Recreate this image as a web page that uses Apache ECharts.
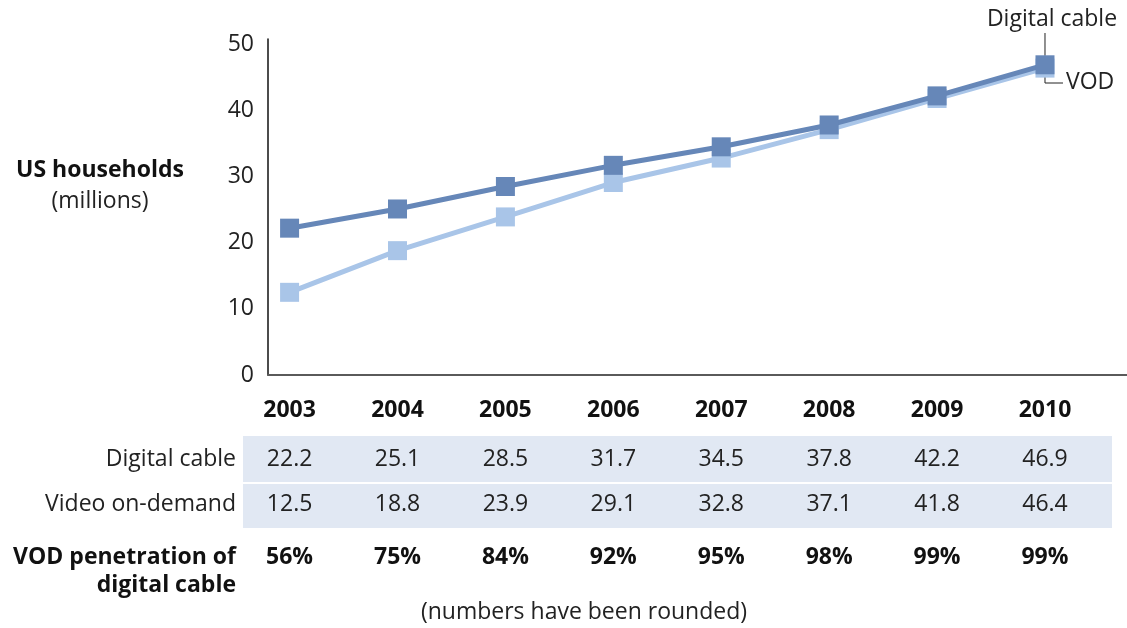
<!DOCTYPE html>
<html>
<head>
<meta charset="utf-8">
<script src="https://cdn.jsdelivr.net/npm/echarts@6/dist/echarts.min.js"></script>
<style>
  html, body { margin: 0; padding: 0; background: #fff; }
  #chart { width: 1127px; height: 628px; }
</style>
</head>
<body>
<div id="chart"></div>
<script>
// data
const years = [2003, 2004, 2005, 2006, 2007, 2008, 2009, 2010];
const digitalCable = [22.2, 25.1, 28.5, 31.7, 34.5, 37.8, 42.2, 46.9];
const videoOnDemand = [12.5, 18.8, 23.9, 29.1, 32.8, 37.1, 41.8, 46.4];
const penetration = ['56%', '75%', '84%', '92%', '95%', '98%', '99%', '99%'];
const yTicks = [0, 10, 20, 30, 40, 50];

const font = 'Open Sans';
const fs = 23;
const darkBlue = '#6687b8';
const lightBlue = '#a9c5e8';

const myChart = echarts.init(document.getElementById('chart'));

myChart.setOption({
  animation: false,
  grid: { left: 268, right: 0, top: 39, bottom: 253 },
  xAxis: {
    type: 'value',
    min: 2002.8,
    max: 2010.76,
    splitLine: { show: false },
    axisTick: { show: false },
    axisLine: { show: true, lineStyle: { color: '#5a5a5a', width: 2 } },
    axisLabel: {
      customValues: years,
      formatter: v => String(v),
      margin: 24,
      fontFamily: font,
      fontSize: fs,
      fontWeight: 'bold',
      color: '#111'
    }
  },
  yAxis: {
    type: 'value',
    min: 0,
    max: 50.8,
    splitLine: { show: false },
    axisTick: { show: false },
    axisLine: { show: true, lineStyle: { color: '#111', width: 1.5 } },
    axisLabel: {
      customValues: yTicks,
      margin: 14,
      fontFamily: font,
      fontSize: fs,
      color: '#222'
    }
  },
  series: [
    {
      name: 'VOD',
      type: 'line',
      data: years.map((y, i) => [y, videoOnDemand[i]]),
      symbol: 'rect',
      symbolSize: 19,
      lineStyle: { color: lightBlue, width: 5 },
      itemStyle: { color: lightBlue },
      z: 2
    },
    {
      name: 'Digital cable',
      type: 'line',
      data: years.map((y, i) => [y, digitalCable[i]]),
      symbol: 'rect',
      symbolSize: 19,
      lineStyle: { color: darkBlue, width: 5 },
      itemStyle: { color: darkBlue },
      z: 3
    }
  ]
});

// table under the chart, columns placed by the x axis
const xs = years.map(y => myChart.convertToPixel({ xAxisIndex: 0 }, y));
const last = myChart.convertToPixel({ xAxisIndex: 0, yAxisIndex: 0 }, [years[7], digitalCable[7]]);

const txt = (x, y, text, opts) => ({
  type: 'text', x: x, y: y,
  style: Object.assign({
    text: text, fontFamily: font, fontSize: fs, fill: '#222',
    align: 'center', verticalAlign: 'middle'
  }, opts || {})
});

let g = [];
g.push({ type: 'rect', shape: { x: 243, y: 436, width: 869, height: 46 }, style: { fill: '#e1e8f3' } });
g.push({ type: 'rect', shape: { x: 243, y: 484, width: 869, height: 44 }, style: { fill: '#e1e8f3' } });

g.push(txt(236, 459, 'Digital cable', { align: 'right' }));
g.push(txt(236, 504, 'Video on-demand', { align: 'right' }));
g.push(txt(236, 557, 'VOD penetration of', { align: 'right', fontWeight: 'bold', fill: '#111' }));
g.push(txt(236, 585, 'digital cable', { align: 'right', fontWeight: 'bold', fill: '#111' }));

for (let i = 0; i < years.length; i++) {
  g.push(txt(xs[i], 459, digitalCable[i].toFixed(1)));
  g.push(txt(xs[i], 504, videoOnDemand[i].toFixed(1)));
  g.push(txt(xs[i], 557, penetration[i], { fontWeight: 'bold', fill: '#111' }));
}

g.push(txt(584, 612, '(numbers have been rounded)'));

// y axis title
g.push(txt(100, 170, 'US households', { fontWeight: 'bold', fill: '#111' }));
g.push(txt(100, 201, '(millions)'));

// end labels with leader lines
g.push(txt(1052, 19, 'Digital cable', { fill: '#222' }));
g.push({ type: 'polyline', shape: { points: [[last[0], 33], [last[0], last[1] - 9]] }, style: { stroke: '#222', lineWidth: 1 } });
g.push({ type: 'polyline', shape: { points: [[last[0], last[1] + 10], [last[0], 83], [last[0] + 18, 83]] }, style: { stroke: '#222', lineWidth: 1 } });
g.push(txt(1066, 82, 'VOD', { align: 'left' }));

myChart.setOption({ graphic: g });
</script>
</body>
</html>
